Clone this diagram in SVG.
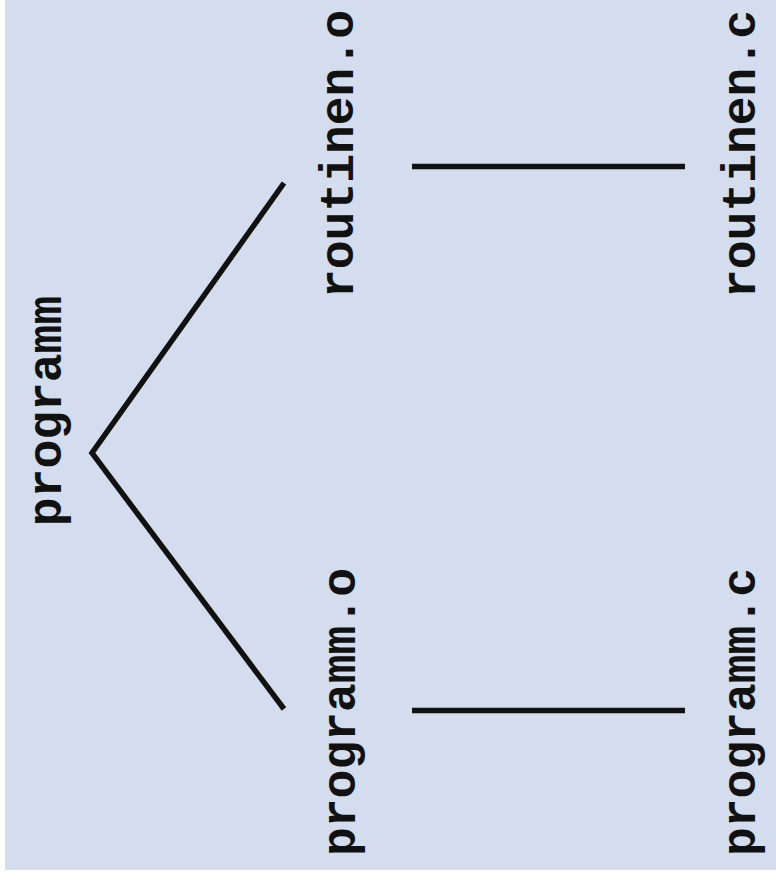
<svg xmlns="http://www.w3.org/2000/svg" width="776" height="882" viewBox="0 0 776 882">
<style>
.lbl{font-family:"Liberation Mono","Courier New",monospace;font-weight:bold;font-size:48px;fill:#111;text-anchor:middle}
.edge{stroke:#111;stroke-width:5.5;fill:none}
</style>
<rect x="5" y="0" width="771" height="870" fill="#d3ddee"/>
<g id="connectors">
<polyline class="edge" points="284,183 92,453 284,709"/>
<line class="edge" x1="412" y1="166.5" x2="685" y2="166.5"/>
<line class="edge" x1="412" y1="710.5" x2="685" y2="710.5"/>
</g>
<g id="programm"><text class="lbl" transform="translate(61,411) rotate(-90)">programm</text></g>
<g id="routinen_o"><text class="lbl" transform="translate(353,154) rotate(-90)">routinen.o</text></g>
<g id="programm_o"><text class="lbl" transform="translate(355,712) rotate(-90)">programm.o</text></g>
<g id="routinen_c"><text class="lbl" transform="translate(755,154) rotate(-90)">routinen.c</text></g>
<g id="programm_c"><text class="lbl" transform="translate(755,712) rotate(-90)">programm.c</text></g>
</svg>
